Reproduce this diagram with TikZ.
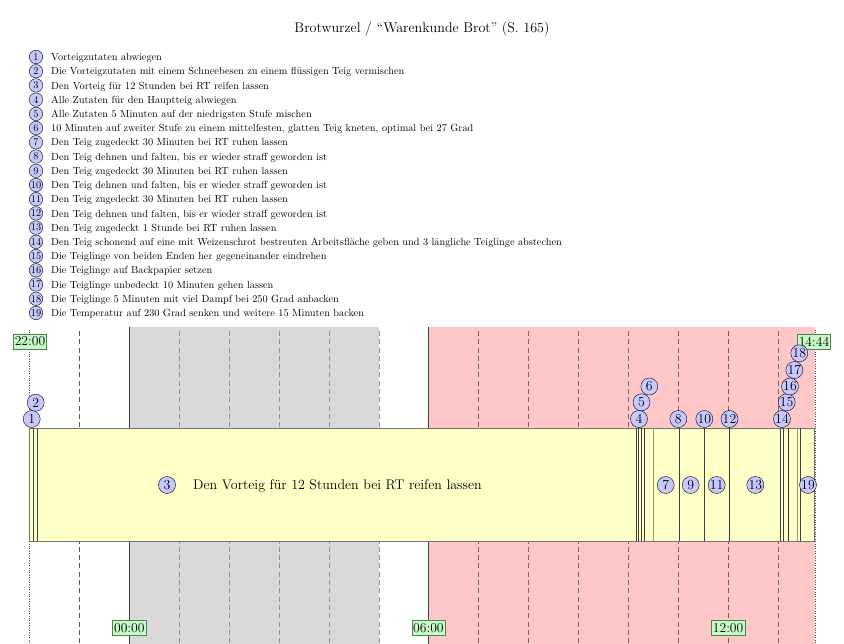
\documentclass[tikz,border=0pt]{standalone}
\usepackage{fontspec}
\definecolor{bub}{RGB}{200,200,255}
\definecolor{bgray}{RGB}{217,217,217}
\definecolor{bpink}{RGB}{255,200,200}
\definecolor{byellow}{RGB}{255,255,200}
\definecolor{lgreen}{RGB}{200,250,200}
\definecolor{dgreen}{RGB}{80,130,80}
\definecolor{noon}{RGB}{130,85,85}
\definecolor{pinkdash}{RGB}{130,100,100}
\tikzset{
  x=1pt, y=-1pt,
  lnum/.style={circle, draw, fill=bub, inner sep=0pt, minimum size=13.5pt, font=\fontsize{10.3}{10.3}\selectfont},
  tnum/.style={circle, draw, fill=bub, inner sep=0pt, minimum size=17pt, font=\fontsize{13.8}{13.8}\selectfont},
  ltext/.style={anchor=base west, inner sep=0pt, font=\fontsize{10.3}{10.3}\selectfont},
  titletext/.style={font=\fontsize{14.1}{14.1}\selectfont},
  bigtext/.style={font=\fontsize{13.95}{13.95}\selectfont},
  timelbl/.style={draw=dgreen, fill=lgreen, inner xsep=1.5pt, inner ysep=3pt, font=\fontsize{13.6}{13.6}\selectfont},
  hourline/.style={black!65, dash pattern=on 5pt off 3.3pt, line width=0.5pt},
  grayhour/.style={black!42, dash pattern=on 5pt off 3.3pt, line width=0.5pt},
  pinkhour/.style={pinkdash, dash pattern=on 5pt off 3.3pt, line width=0.5pt},
  noonline/.style={noon, dash pattern=on 5pt off 3.3pt, line width=1pt},
  edgeline/.style={black!75, line width=0.5pt},
  endline/.style={black!70, dotted, line width=0.4pt},
  stepline/.style={black!75, line width=0.5pt},
  lightstep/.style={black!40!yellow!60!gray, line width=0.5pt}
}
\begin{document}
\begin{tikzpicture}
\useasboundingbox (0,0) rectangle (844,644);
% title
\node[titletext] (title) at (422,29) {Brotwurzel / “Warenkunde Brot” (S. 165)};
% list
\foreach \i/\t in {
 1/{Vorteigzutaten abwiegen},
 2/{Die Vorteigzutaten mit einem Schneebesen zu einem flüssigen Teig vermischen},
 3/{Den Vorteig für 12 Stunden bei RT reifen lassen},
 4/{Alle Zutaten für den Hauptteig abwiegen},
 5/{Alle Zutaten 5 Minuten auf der niedrigsten Stufe mischen},
 6/{10 Minuten auf zweiter Stufe zu einem mittelfesten, glatten Teig kneten, optimal bei 27 Grad},
 7/{Den Teig zugedeckt 30 Minuten bei RT ruhen lassen},
 8/{Den Teig dehnen und falten, bis er wieder straff geworden ist},
 9/{Den Teig zugedeckt 30 Minuten bei RT ruhen lassen},
 10/{Den Teig dehnen und falten, bis er wieder straff geworden ist},
 11/{Den Teig zugedeckt 30 Minuten bei RT ruhen lassen},
 12/{Den Teig dehnen und falten, bis er wieder straff geworden ist},
 13/{Den Teig zugedeckt 1 Stunde bei RT ruhen lassen},
 14/{Den Teig schonend auf eine mit Weizenschrot bestreuten Arbeitsfläche geben und 3 längliche Teiglinge abstechen},
 15/{Die Teiglinge von beiden Enden her gegeneinander eindrehen},
 16/{Die Teiglinge auf Backpapier setzen},
 17/{Die Teiglinge unbedeckt 10 Minuten gehen lassen},
 18/{Die Teiglinge 5 Minuten mit viel Dampf bei 250 Grad anbacken},
 19/{Die Temperatur auf 230 Grad senken und weitere 15 Minuten backen}} {
  \node[lnum] (l\i) at (36,{57+(\i-1)*14.22}) {\i};
  \node[ltext] (lt\i) at (51,{57+(\i-1)*14.22+3.6}) {\t};
}
% background regions
\fill[bgray] (129.3,327) rectangle (378.5,644);
\fill[bpink] (428.4,327) rectangle (815,644);
% hour lines
\draw[hourline] (79.4,331) -- (79.4,644);
\foreach \t in {3,4,5,6,7} {
  \draw[grayhour] ({29.5+49.9*\t},331) -- ({29.5+49.9*\t},644);
}
\foreach \t in {9,10,11,12,13,15} {
  \draw[pinkhour] ({29.5+49.9*\t},331) -- ({29.5+49.9*\t},644);
}
\draw[edgeline] (129.3,327) -- (129.3,644);
\draw[edgeline] (428.4,327) -- (428.4,644);
\draw[noonline] (728.1,331) -- (728.1,644);
\draw[endline] (29.5,330) -- (29.5,644);
\draw[endline] (815,330) -- (815,644);
% bar
\draw[fill=byellow, draw=black!55] (29.5,428) rectangle (814.5,541);
\foreach \x in {33.3,37.3,636,638.5,641,644.3,679,704,780.7,783.3,800.7} {
  \draw[stepline] (\x,428) -- (\x,541);
}
\foreach \x in {653.3,797.7} {
  \draw[lightstep] (\x,428) -- (\x,541);
}
\draw[black!80, line width=1pt] (729.7,428) -- (729.7,541);
\draw[black!80, line width=1pt] (788.7,428) -- (788.7,541);
% time labels
\node[timelbl] (t2200) at (30,341.5) {22:00};
\node[timelbl] (t1444) at (814,342) {14:44};
\node[timelbl] (t0000) at (129.3,628) {00:00};
\node[timelbl] (t0600) at (428.4,628) {06:00};
\node[timelbl] (t1200) at (728.1,628) {12:00};
% bubbles above the bar
\node[tnum] (b1) at (31.7,419) {1};
\node[tnum] (b2) at (35.7,402.7) {2};
\node[tnum] (b4) at (639,419) {4};
\node[tnum] (b5) at (641.5,402.3) {5};
\node[tnum] (b6) at (649.3,386.5) {6};
\node[tnum] (b8) at (678.3,419) {8};
\node[tnum] (b10) at (704.3,419) {10};
\node[tnum] (b12) at (729.5,419) {12};
\node[tnum] (b14) at (782,419) {14};
\node[tnum] (b15) at (786.7,402.3) {15};
\node[tnum] (b16) at (790,386.5) {16};
\node[tnum] (b17) at (794.3,370) {17};
\node[tnum] (b18) at (799.3,353.3) {18};
% bubbles in the bar
\node[tnum] (b3) at (167,485) {3};
\node[bigtext, anchor=base west, inner sep=0pt] (t3) at (193,489.6) {Den Vorteig für 12 Stunden bei RT reifen lassen};
\node[tnum] (b7) at (665.7,485) {7};
\node[tnum] (b9) at (690.7,485) {9};
\node[tnum] (b11) at (716.7,485) {11};
\node[tnum] (b13) at (755.3,485) {13};
\node[tnum] (b19) at (808,485) {19};
\end{tikzpicture}
\end{document}
